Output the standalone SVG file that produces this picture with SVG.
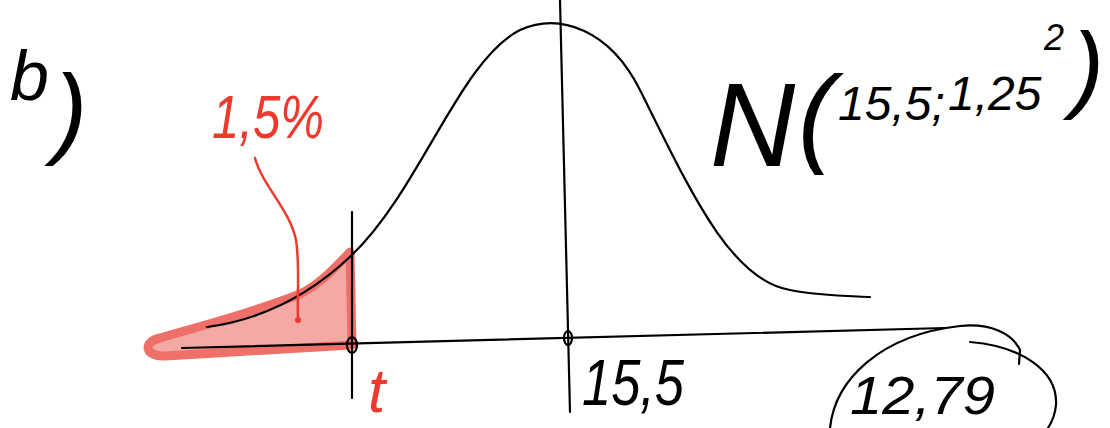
<svg xmlns="http://www.w3.org/2000/svg" width="1110" height="428" viewBox="0 0 1110 428">
<style>
.ink{fill:none;stroke:#000;stroke-width:2.2;stroke-linecap:round;stroke-linejoin:round}
.red{fill:none;stroke:#ee3a2c;stroke-width:2.5;stroke-linecap:round}
.hw{font-family:"Liberation Sans",sans-serif;font-style:italic;fill:#000}
.hr{font-family:"Liberation Sans",sans-serif;font-style:italic;fill:#ee3a2c}
</style>
<rect width="1110" height="428" fill="#fff"/>
<g id="shade">
<path d="M160,338 C200,326 250,314 300,294 C320,284 335,268 350,252 L352,345 C300,348 230,352 165,356 C145,357 142,342 160,338 Z" fill="#f28c85" fill-opacity="0.75" stroke="#ef7068" stroke-width="9" stroke-linejoin="round"/>
</g>
<g id="connectors">
<path class="ink" d="M182,348 L945,328"/>
<path class="ink" d="M352,212 L352,398"/>
<path class="ink" d="M560,0 L570,412"/>
<path class="ink" d="M207,327 C260,320 310,295 352,255 C420,190 460,60 520,30 C560,12 610,30 640,90 C690,190 730,280 790,290 C820,296 850,296 870,297"/>
<ellipse class="ink" cx="352" cy="345" rx="5" ry="8" stroke-width="3"/>
<ellipse class="ink" cx="568" cy="338" rx="4" ry="7" stroke-width="3"/>
<path class="red" d="M255,158 C262,185 290,210 296,240 C300,265 297,295 298,318"/>
<circle cx="298" cy="320" r="3" fill="#ee3a2c"/>
<path class="ink" d="M830,428 C835,380 880,335 960,326 C990,323 1012,333 1020,350 L1019,364"/>
<path class="ink" d="M970,342 C1020,346 1058,370 1056,405 C1055,415 1052,422 1048,428"/>
</g>
<g id="label-b"><text class="hw" x="10" y="100" font-size="70">b<tspan x="54" y="145" font-size="100">)</tspan></text></g>
<g id="label-pct"><text class="hr" x="212" y="138" font-size="62" textLength="112" lengthAdjust="spacingAndGlyphs">1,5%</text></g>
<g id="label-N">
<text class="hw" x="710" y="166" font-size="118">N<tspan x="798" y="152" font-size="110">(</tspan><tspan x="838" y="120" font-size="48">15,5;</tspan><tspan x="948" y="110" font-size="48">1,25</tspan><tspan x="1044" y="50" font-size="36">2</tspan><tspan x="1072" y="100" font-size="96">)</tspan></text>
</g>
<g id="label-t"><text class="hr" x="368" y="412" font-size="62">t</text></g>
<g id="label-155"><text class="hw" x="582" y="405" font-size="64" textLength="102" lengthAdjust="spacingAndGlyphs">15,5</text></g>
<g id="label-1279"><text class="hw" x="850" y="414" font-size="54" textLength="145" lengthAdjust="spacingAndGlyphs">12,79</text></g>
</svg>
